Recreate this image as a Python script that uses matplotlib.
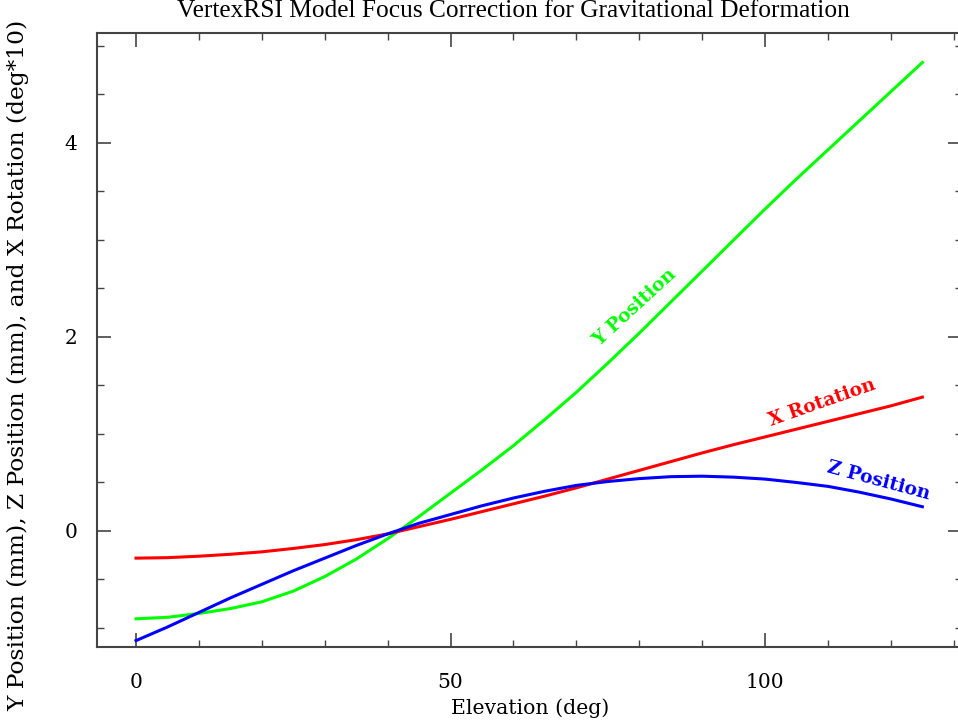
import numpy as np
import matplotlib.pyplot as plt
from matplotlib.ticker import MultipleLocator

# Elevation grid (deg) and curves
elev = [0, 5, 10, 15, 20, 25, 30, 35, 40, 45, 50, 55, 60, 65, 70, 75,
        80, 85, 90, 95, 100, 105, 110, 115, 120, 125]
y_pos = [-0.905, -0.89, -0.85, -0.80, -0.73, -0.62, -0.47, -0.29, -0.08, 0.15,
         0.39, 0.63, 0.88, 1.15, 1.43, 1.73, 2.04, 2.36, 2.68, 3.00,
         3.32, 3.63, 3.93, 4.23, 4.53, 4.83]
z_pos = [-1.13, -0.99, -0.84, -0.69, -0.55, -0.41, -0.28, -0.15, -0.03, 0.08,
         0.17, 0.26, 0.34, 0.41, 0.47, 0.51, 0.54, 0.56, 0.565, 0.555,
         0.535, 0.50, 0.46, 0.40, 0.33, 0.25]
x_rot = [-0.28, -0.275, -0.26, -0.24, -0.215, -0.18, -0.14, -0.09, -0.03, 0.045,
         0.12, 0.20, 0.28, 0.36, 0.445, 0.535, 0.625, 0.715, 0.805, 0.89,
         0.97, 1.05, 1.13, 1.21, 1.29, 1.38]

fig = plt.figure(figsize=(9.58, 7.27), dpi=100)
ax = fig.add_axes([97/958, 1-647/727, (962-97)/958, (647-33)/727])

ax.plot(elev, y_pos, color='#00ff00', lw=2.2)
ax.plot(elev, x_rot, color='#ff0000', lw=2.2)
ax.plot(elev, z_pos, color='#0000ff', lw=2.2)

# curve labels
lab = dict(family='DejaVu Serif', fontweight='bold', fontsize=13.5,
           ha='center', va='center', rotation_mode='anchor')
ax.text(79.2, 2.30, 'Y Position', color='#00ff00', rotation=42.5, **lab)
ax.text(109.1, 1.325, 'X Rotation', color='#ff0000', rotation=19.4, **lab)
ax.text(118.1, 0.515, 'Z Position', color='#0000ff', rotation=-15, **lab)

ax.set_xlim(-6.2, 131.3)
ax.set_ylim(-1.196, 5.134)
ax.xaxis.set_major_locator(MultipleLocator(50))
ax.xaxis.set_minor_locator(MultipleLocator(10))
ax.yaxis.set_major_locator(MultipleLocator(2))
ax.yaxis.set_minor_locator(MultipleLocator(0.5))
ax.tick_params(which='both', direction='in', top=True, right=True,
               color='#444444', labelsize=14.5)
ax.tick_params(axis='x', pad=19)
ax.tick_params(axis='y', pad=14)
ax.tick_params(which='major', length=10, width=1.2)
ax.tick_params(which='minor', length=5, width=1.0)
for s in ax.spines.values():
    s.set_color('#444444')
    s.set_linewidth(1.5)
for t in ax.get_xticklabels() + ax.get_yticklabels():
    t.set_family('DejaVu Serif')

fig.text(513/958, 1-11/727, 'VertexRSI Model Focus Correction for Gravitational Deformation',
         family='Liberation Serif', fontsize=18.3, ha='center', va='center')
fig.text(530/958, 1-708/727, 'Elevation (deg)', family='DejaVu Serif',
         fontsize=14.7, ha='center', va='center')
fig.text(18/958, 1-365/727, 'Y Position (mm), Z Position (mm), and X Rotation (deg*10)',
         family='DejaVu Serif', fontsize=16.8, ha='center', va='center', rotation=90)

plt.savefig('out.png', dpi=100)
